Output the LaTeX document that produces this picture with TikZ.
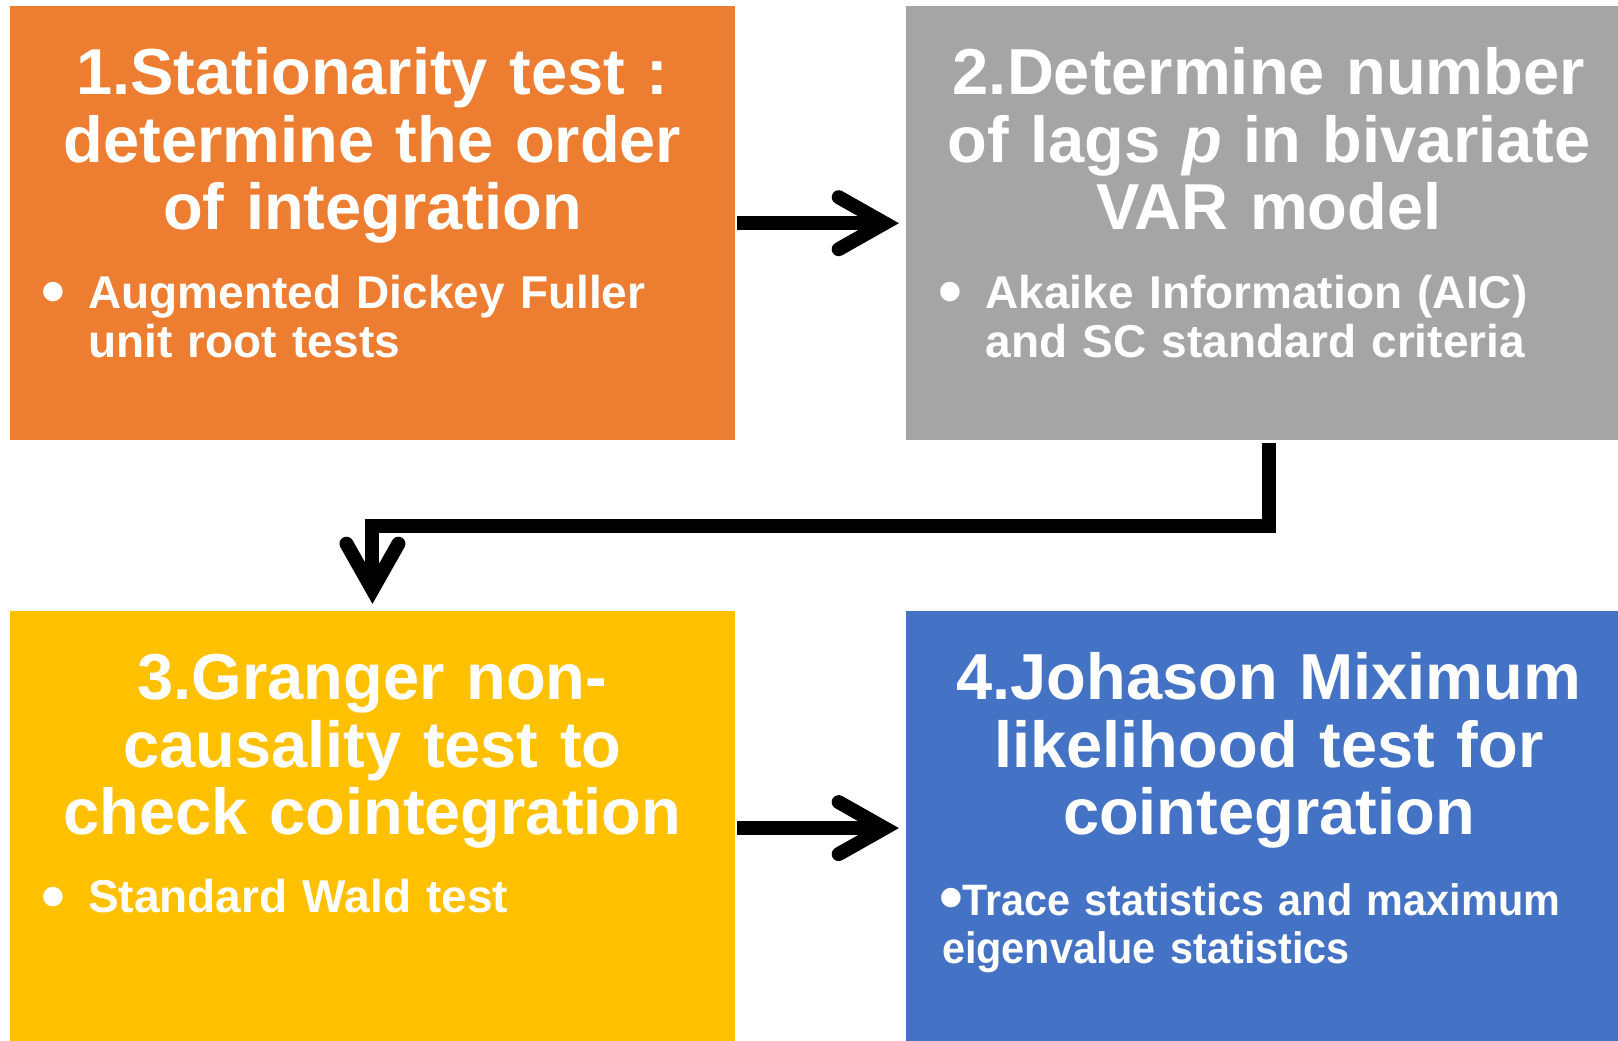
\documentclass[tikz,border=0pt]{standalone}
\usepackage{fontspec}
\setmainfont{Liberation Sans}
\newfontfamily\narrowsans[FakeStretch=0.94]{Liberation Sans}
\usepackage{xcolor}
\usetikzlibrary{positioning,arrows.meta}

\definecolor{stepone}{HTML}{ED7D31}
\definecolor{steptwo}{HTML}{A5A5A5}
\definecolor{stepthree}{HTML}{FFC000}
\definecolor{stepfour}{HTML}{4472C4}

\begin{document}
\begin{tikzpicture}[%
    x=1pt,y=1pt,node distance=170.5pt,
    >={Straight Barb[length=46pt,width=52pt,line cap=round,line join=miter]},
    flow/.style={->,line width=14pt,shorten >=7pt},
    stage/.style={%
      rectangle,minimum width=725.5pt,minimum height=434pt,inner sep=0pt,anchor=north west},
    stagehead/.style={%
      text=white,font=\bfseries\fontsize{65}{67.5}\selectfont,
      text width=710pt,align=center,inner sep=0pt,anchor=base},
    stagenote/.style={%
      text=white,font=\bfseries\fontsize{46}{49}\selectfont,
      text width=700pt,align=left,inner sep=0pt,anchor=base west},
    stagedot/.style={%
      text=white,font=\bfseries\fontsize{68}{68}\selectfont,inner sep=0pt,anchor=center}
  ]
    \path[use as bounding box,clip] (0,0) rectangle (1618,-1041);

    % the four steps
    \node[stage,fill=stepone]   (s1) at (9.5,-6)     {};
    \node[stage,fill=steptwo]   (s2) [right=of s1]   {};
    \node[stage,fill=stepthree] (s3) [below=of s1]   {};
    \node[stage,fill=stepfour]  (s4) [right=of s3]   {};

    \node[stagehead] (h1) at ([yshift=-89pt]s1.north) {1.Stationarity test :\\determine the order\\of integration};
    \node[stagehead] (h2) at ([yshift=-89pt]s2.north) {2.Determine number\\of lags \textit{p} in bivariate\\VAR model};
    \node[stagehead] (h3) at ([yshift=-89pt]s3.north) {3.Granger non-\\causality test to\\check cointegration};
    \node[stagehead] (h4) at ([yshift=-89pt]s4.north) {4.Johason Miximum\\likelihood test for\\cointegration};

    \node[stagedot]  (d1) at ([xshift=44pt,yshift=-292.5pt]s1.north west) {•};
    \node[stagenote] (n1) at ([xshift=78.5pt,yshift=-302pt]s1.north west)  {Augmented Dickey Fuller\\unit root tests};
    \node[stagedot]  (d2) at ([xshift=44pt,yshift=-292.5pt]s2.north west) {•};
    \node[stagenote] (n2) at ([xshift=79.5pt,yshift=-302pt]s2.north west)  {Akaike Information (AIC)\\and SC standard criteria};
    \node[stagedot]  (d3) at ([xshift=44pt,yshift=-292.5pt]s3.north west) {•};
    \node[stagenote] (n3) at ([xshift=78.5pt,yshift=-302pt]s3.north west)  {Standard Wald test};
    \node[stagedot]  (d4) at ([xshift=45pt,yshift=-293.5pt]s4.north west) {•};
    \node[stagenote,font=\narrowsans\bfseries\fontsize{44}{48}\selectfont] (n4) at ([xshift=36pt,yshift=-305pt]s4.north west)
      {\hspace*{20pt}Trace statistics and maximum\\eigenvalue statistics};

    % arrows between the steps
    \path (s1) edge[flow,shorten <=2pt] (s2)
          (s3) edge[flow,shorten <=2pt] (s4);
    \draw[flow,shorten <=3pt] (s2.south) -- ++(0,-85.5) -| (s3.north);
\end{tikzpicture}
\end{document}
